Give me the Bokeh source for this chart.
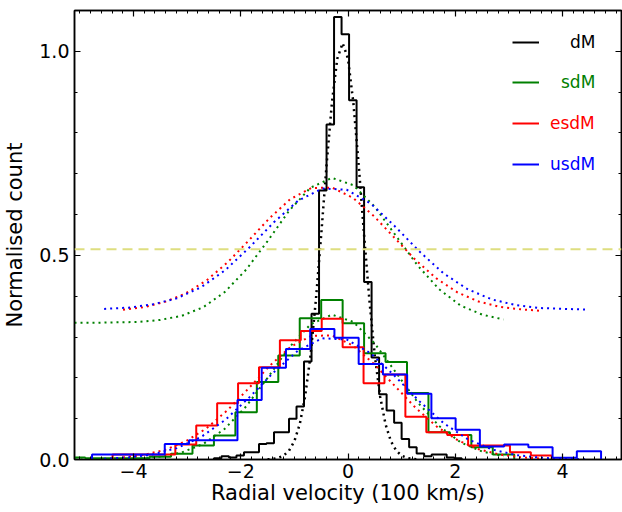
from bokeh.plotting import figure
from bokeh.models import (FixedTicker, LinearAxis, Range1d, Legend, LegendItem, Span,
                          CustomLabelingPolicy)
from bokeh.embed import file_html
from bokeh.resources import INLINE

# ---------------- data ----------------
x_major_ticks = [-4, -2, 0, 2, 4]
x_tick_labels = ["\u22124", "\u22122", "0", "2", "4"]
y_major_ticks = [0.0, 0.5, 1.0]
y_tick_labels = ["0.0", "0.5", "1.0"]

series_names = ["dM", "sdM", "esdM", "usdM"]
series_colors = ["black", "green", "red", "blue"]

# histograms: first bin edge, bin width, normalised counts
dM_first_edge, dM_bin_width = -2.50, 0.14
dM_counts = [0.003, 0.008, 0.005, 0.010, 0.018, 0.018, 0.038, 0.040, 0.067, 0.067,
             0.100, 0.130, 0.240, 0.357, 0.659, 0.821, 1.084, 1.042, 0.880, 0.667,
             0.435, 0.250, 0.160, 0.120, 0.090, 0.050, 0.030, 0.015, 0.008, 0.012,
             0.012, 0.005, 0.003]

sdM_first_edge, sdM_bin_width = -5.30, 0.40
sdM_counts = [0.005, 0.003, 0.003, 0.003, 0.007, 0.014, 0.034, 0.059, 0.116, 0.190,
              0.255, 0.346, 0.391, 0.334, 0.260, 0.239, 0.163, 0.067, 0.060, 0.030,
              0.012]

esdM_first_edge, esdM_bin_width = -4.39, 0.39
esdM_counts = [0.012, 0.012, 0.012, 0.037, 0.083, 0.138, 0.187, 0.226, 0.292, 0.315,
               0.345, 0.275, 0.187, 0.208, 0.105, 0.067, 0.060, 0.034, 0.034, 0.018,
               0.010]

usdM_first_edge, usdM_bin_width = -4.773, 0.452
usdM_counts = [0.012, 0.012, 0.012, 0.038, 0.047, 0.047, 0.146, 0.225, 0.271, 0.320,
               0.298, 0.234, 0.208, 0.161, 0.101, 0.073, 0.032, 0.037, 0.030, 0.004,
               0.020]

# dotted fitted curves (lower) and raised curves (upper)
dM_fit_x = [-1.5, -1.4, -1.3, -1.2, -1.1, -1.0, -0.9, -0.8, -0.7, -0.6, -0.5, -0.4,
            -0.3, -0.2, -0.1, 0.0, 0.1, 0.2, 0.3, 0.4, 0.5, 0.6, 0.7, 0.8, 0.9, 1.0,
            1.1, 1.2, 1.3]
dM_fit_y = [0.0005, 0.0015, 0.0039, 0.0096, 0.0215, 0.0448, 0.0863, 0.154, 0.254,
            0.389, 0.550, 0.721, 0.874, 0.982, 1.020, 0.982, 0.874, 0.721, 0.550,
            0.389, 0.254, 0.154, 0.0863, 0.0448, 0.0215, 0.0096, 0.0039, 0.0015, 0.0005]

sdM_fit_y = [0.0001, 0.0002, 0.0008, 0.0024, 0.0069, 0.0172, 0.038, 0.075, 0.130,
             0.200, 0.274, 0.331, 0.355, 0.337, 0.284, 0.212, 0.140, 0.082, 0.042,
             0.0195, 0.008]
sdM_upper_y = [0.335, 0.335, 0.336, 0.337, 0.342, 0.352, 0.373, 0.410, 0.465, 0.535,
               0.609, 0.666, 0.690, 0.672, 0.619, 0.547, 0.475, 0.417, 0.377, 0.355,
               0.343]

esdM_fit_y = [0.0051, 0.0114, 0.0236, 0.0445, 0.0767, 0.121, 0.174, 0.229, 0.2755,
              0.303, 0.304, 0.279, 0.234, 0.180, 0.126, 0.0807, 0.0473, 0.0253,
              0.0124, 0.0055, 0.0023]
esdM_upper_y = [0.367, 0.373, 0.386, 0.407, 0.439, 0.483, 0.536, 0.591, 0.638, 0.665,
                0.666, 0.641, 0.596, 0.542, 0.488, 0.443, 0.409, 0.387, 0.374, 0.368,
                0.364]

usdM_fit_y = [0.0018, 0.005, 0.0125, 0.0278, 0.0551, 0.0972, 0.1528, 0.214, 0.267,
              0.297, 0.294, 0.260, 0.204, 0.143, 0.0893, 0.0496, 0.0246, 0.0109,
              0.0043, 0.0015, 0.0005]
usdM_upper_y = [0.369, 0.372, 0.380, 0.395, 0.422, 0.464, 0.520, 0.581, 0.634, 0.664,
                0.661, 0.627, 0.571, 0.510, 0.456, 0.417, 0.392, 0.378, 0.371, 0.369,
                0.367]

reference_level = 0.515

x_limits = (-5.1, 5.1)
y_limits = (0.0, 1.1)


def outline(first, width, counts):
    xs, ys = [first], [0.0]
    for i, c in enumerate(counts):
        x0 = first + i * width
        xs += [x0, x0 + width]
        ys += [c, c]
    xs.append(first + len(counts) * width)
    ys.append(0.0)
    return xs, ys


def centers(first, width, n):
    return [first + (i + 0.5) * width for i in range(n)]


FONT = "DejaVu Sans"

p = figure(frame_width=547, frame_height=449,
           x_range=Range1d(*x_limits), y_range=Range1d(*y_limits),
           output_backend="svg", toolbar_location=None,
           min_border_left=74, min_border_right=1, min_border_top=10,
           min_border_bottom=53)
p.background_fill_color = "white"
p.border_fill_color = "white"
p.outline_line_color = "black"
p.outline_line_width = 1.5
p.grid.visible = False

DOT = "2 4"
hist_renderers = []

# dM
xs, ys = outline(dM_first_edge, dM_bin_width, dM_counts)
hist_renderers.append(p.line(xs, ys, line_color="black", line_width=2))
p.line(dM_fit_x, dM_fit_y, line_color="black", line_width=2.5, line_dash=DOT)

# sdM, esdM, usdM
for first, width, counts, fit, upper, col in [
        (sdM_first_edge, sdM_bin_width, sdM_counts, sdM_fit_y, sdM_upper_y, "green"),
        (esdM_first_edge, esdM_bin_width, esdM_counts, esdM_fit_y, esdM_upper_y, "red"),
        (usdM_first_edge, usdM_bin_width, usdM_counts, usdM_fit_y, usdM_upper_y, "blue")]:
    xs, ys = outline(first, width, counts)
    hist_renderers.append(p.line(xs, ys, line_color=col, line_width=2))
    cx = centers(first, width, len(counts))
    p.line(cx, fit, line_color=col, line_width=2, line_dash=DOT)
    p.line(cx, upper, line_color=col, line_width=2, line_dash=DOT)

p.add_layout(Span(location=reference_level, dimension="width",
                  line_color="#dede80", line_width=2, line_dash="10 6"))

# ---- axes ----
x_minor = [round(-5.0 + 0.2 * i, 1) for i in range(51)]
y_minor = [round(0.1 * i, 1) for i in range(12)]

hide_all_labels = CustomLabelingPolicy(code="""
    for (const i of indices) { indices.unset(i) }
    return indices
""")


def style_axis(ax, major, minor, labels, show_labels):
    ax.ticker = FixedTicker(ticks=major, minor_ticks=minor)
    ax.major_tick_in = 6
    ax.major_tick_out = 0
    ax.minor_tick_in = 3
    ax.minor_tick_out = 0
    ax.axis_line_width = 1.5
    ax.major_tick_line_width = 1.2
    ax.minor_tick_line_width = 1
    ax.major_label_text_font = FONT
    ax.major_label_text_color = "black"
    if show_labels:
        ax.major_label_overrides = {t: l for t, l in zip(major, labels)}
        ax.major_label_text_font_size = "19px"
    else:
        ax.major_label_policy = hide_all_labels
        ax.major_label_text_font_size = "0px"
        ax.major_label_standoff = 0
        ax.axis_label_standoff = 0


xb = p.xaxis[0]
yl = p.yaxis[0]
style_axis(xb, x_major_ticks, x_minor, x_tick_labels, True)
style_axis(yl, y_major_ticks, y_minor, y_tick_labels, True)
xb.axis_label = "Radial velocity (100 km/s)"
yl.axis_label = "Normalised count"
for ax in (xb, yl):
    ax.axis_label_text_font = FONT
    ax.axis_label_text_font_size = "21px"
    ax.axis_label_text_font_style = "normal"
    ax.axis_label_text_color = "black"
xb.major_label_standoff = 4
xb.axis_label_standoff = 0
yl.major_label_standoff = 5
yl.axis_label_standoff = 9

xt = LinearAxis()
yr = LinearAxis()
style_axis(xt, x_major_ticks, x_minor, x_tick_labels, False)
style_axis(yr, y_major_ticks, y_minor, y_tick_labels, False)
p.add_layout(xt, "above")
p.add_layout(yr, "right")

# ---- legend: one per entry so each text has its own colour ----
legend_offsets = [(438, 407, 31), (438, 367, 22), (438, 326, 11), (438, 285, 11)]
for name, col, r, (vx, vy, standoff) in zip(series_names, series_colors,
                                              hist_renderers, legend_offsets):
    lg = Legend(items=[LegendItem(label=name, renderers=[r])],
                location=(vx, vy), orientation="vertical",
                glyph_width=27, glyph_height=20, label_height=20,
                label_standoff=standoff, padding=0, margin=0, spacing=0,
                border_line_color=None, background_fill_alpha=0,
                label_text_font=FONT, label_text_font_size="17px",
                label_text_color=col)
    p.add_layout(lg, "center")

open("out.html", "w").write(file_html(p, INLINE))
